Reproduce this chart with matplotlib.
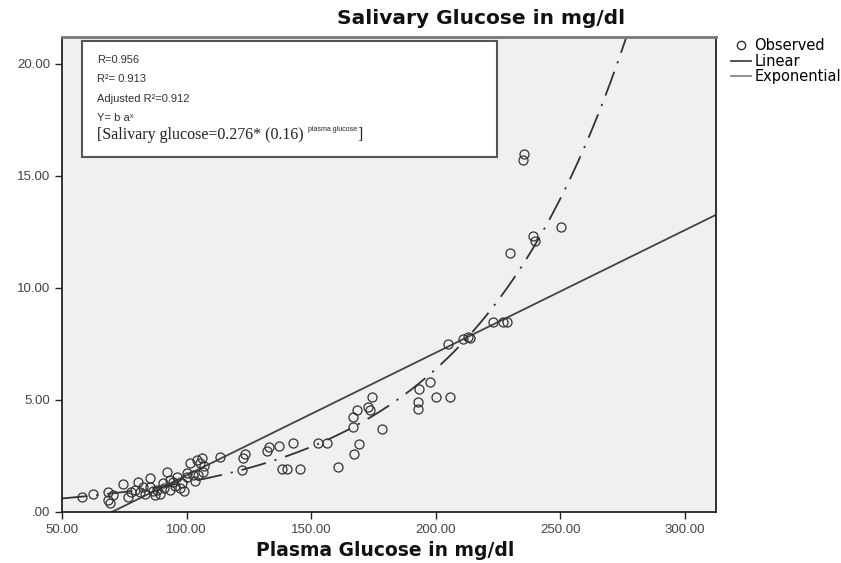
import numpy as np
import matplotlib
matplotlib.use("Agg")
import matplotlib.pyplot as plt
from matplotlib.lines import Line2D
from matplotlib.patches import Rectangle

plt.rcParams['font.family'] = ['Liberation Sans', 'DejaVu Sans']

# observed points (plasma glucose, salivary glucose)
plasma = [57.9, 62.6, 68.6, 68.5, 69.3, 70.5, 74.6, 76.5, 77.5, 79.3, 80.5, 81.3,
          82.5, 83.5, 85.3, 85.3, 86.5, 87.5, 88.2, 89.4, 90.6, 91.0, 92.0, 93.4,
          93.4, 94.6, 95.5, 96.2, 97.4, 98.0, 99.0, 100.1, 100.2, 101.4, 102.6,
          103.5, 104.1, 104.6, 105.4, 106.2, 106.6, 107.0, 113.5,
          122.3, 122.7, 123.5, 132.3, 133.1, 137.1, 138.4, 140.4, 142.8, 145.5,
          152.6, 156.4, 160.6, 166.9, 166.9, 167.3, 168.5, 169.3, 172.9, 173.7,
          174.5, 178.5, 193.0, 193.0, 193.2, 197.8, 200.0, 205.6, 205.0,
          211.0, 213.0, 213.9, 223.1, 227.1, 228.7, 230.0, 234.9, 235.5,
          239.2, 240.0, 250.4]
salivary = [0.66, 0.80, 0.91, 0.55, 0.40, 0.75, 1.25, 0.67, 0.90, 0.98, 1.35, 0.91,
            1.12, 0.80, 1.52, 1.13, 0.95, 0.75, 1.00, 0.80, 1.29, 1.05, 1.80, 1.43,
            0.98, 1.35, 1.15, 1.56, 1.07, 1.30, 0.95, 1.74, 1.56, 2.19, 1.65,
            1.40, 2.32, 1.65, 2.19, 2.41, 1.79, 2.05, 2.46,
            1.88, 2.41, 2.59, 2.72, 2.90, 2.95, 1.92, 1.92, 3.08, 1.92,
            3.08, 3.08, 2.00, 4.25, 3.80, 2.60, 4.55, 3.05, 4.70, 4.55,
            5.15, 3.70, 4.90, 4.60, 5.50, 5.80, 5.15, 5.15, 7.50,
            7.70, 7.80, 7.75, 8.50, 8.50, 8.50, 11.55, 15.70, 16.00,
            12.30, 12.10, 12.70]

# fitted models
lin_b0, lin_b1 = -3.83, 0.0547
exp_b0, exp_b1 = 0.276, 0.0157

x_ticks = [50, 100, 150, 200, 250, 300]
x_tick_labels = ['50.00', '100.00', '150.00', '200.00', '250.00', '300.00']
y_ticks = [0, 5, 10, 15, 20]
y_tick_labels = ['.00', '5.00', '10.00', '15.00', '20.00']

fig = plt.figure(figsize=(8.41, 5.63), dpi=100)
ax = fig.add_axes([62 / 841, 51 / 563, 654 / 841, 475 / 563])
ax.set_facecolor('#f0f0f0')

xmin, xmax = 50, 312.5
ymin, ymax = 0, 21.2
xs = np.linspace(xmin, xmax, 400)
ax.plot(xs, lin_b0 + lin_b1 * xs, color='#444444', lw=1.3, zorder=2)
ax.plot(xs, exp_b0 * np.exp(exp_b1 * xs), color='#333333', lw=1.3,
        linestyle=(0, (14, 5, 1.2, 5)), zorder=2)
ax.plot(plasma, salivary, linestyle='none', marker='o', markersize=6.5,
        markerfacecolor='none', markeredgecolor='#333333', markeredgewidth=0.9,
        zorder=3)

ax.set_xlim(xmin, xmax)
ax.set_ylim(ymin, ymax)
ax.set_xticks(x_ticks)
ax.set_xticklabels(x_tick_labels)
ax.set_yticks(y_ticks)
ax.set_yticklabels(y_tick_labels)
ax.tick_params(direction='out', length=5, width=1, colors='#222222',
               labelsize=9.5, labelcolor='#444444')
for side in ['left', 'bottom', 'right']:
    ax.spines[side].set_color('#111111')
    ax.spines[side].set_linewidth(1.2)
ax.spines['top'].set_color('#777777')
ax.spines['top'].set_linewidth(2)

# equation box
ax.add_patch(Rectangle((0.031, 0.747), 0.634, 0.245, transform=ax.transAxes,
                       facecolor='white', edgecolor='#555555', lw=1.5, zorder=4))
box_lines = ['R=0.956', 'R\u00b2= 0.913', 'Adjusted R\u00b2=0.912', 'Y= b a\u02e3']
for i, t in enumerate(box_lines):
    ax.text(0.054, 0.952 - i * 0.041, t, transform=ax.transAxes, fontsize=8,
            color='#333333', va='center', zorder=5)
eq = ax.text(0.054, 0.794, '[Salivary glucose=0.276* (0.16) ',
             transform=ax.transAxes, fontsize=11.5, family='Liberation Serif',
             color='#222222', va='center', zorder=5)
sup = ax.annotate('plasma glucose', xycoords=eq, xy=(1, 0.62), va='bottom',
                  fontsize=5, color='#222222', zorder=5)
ax.annotate(']', xycoords=(sup, eq), xy=(1, 0), va='bottom',
            fontsize=11.5, family='Liberation Serif', color='#222222', zorder=5)

fig.text(481 / 841, 1 - 18 / 563, 'Salivary Glucose in mg/dl', ha='center',
         va='center', fontsize=14.5, fontweight='bold', color='#111111',
         family='DejaVu Sans')
fig.text(385 / 841, 1 - 551 / 563, 'Plasma Glucose in mg/dl', ha='center',
         va='center', fontsize=13.5, fontweight='bold', color='#111111',
         family='DejaVu Sans')

handles = [Line2D([], [], linestyle='none', marker='o', markerfacecolor='none',
                  markeredgecolor='#333333', markersize=6),
           Line2D([], [], color='#444444', lw=1.3),
           Line2D([], [], color='#888888', lw=1.3)]
fig.legend(handles, ['Observed', 'Linear', 'Exponential'], loc='upper left',
           bbox_to_anchor=(731 / 841, 1 - 38 / 563), frameon=False,
           prop={'family': 'DejaVu Sans', 'size': 10.5},
           handlelength=1.4, handletextpad=0.2, labelspacing=0.05,
           borderpad=0, borderaxespad=0)

fig.savefig('out.png', dpi=100)
